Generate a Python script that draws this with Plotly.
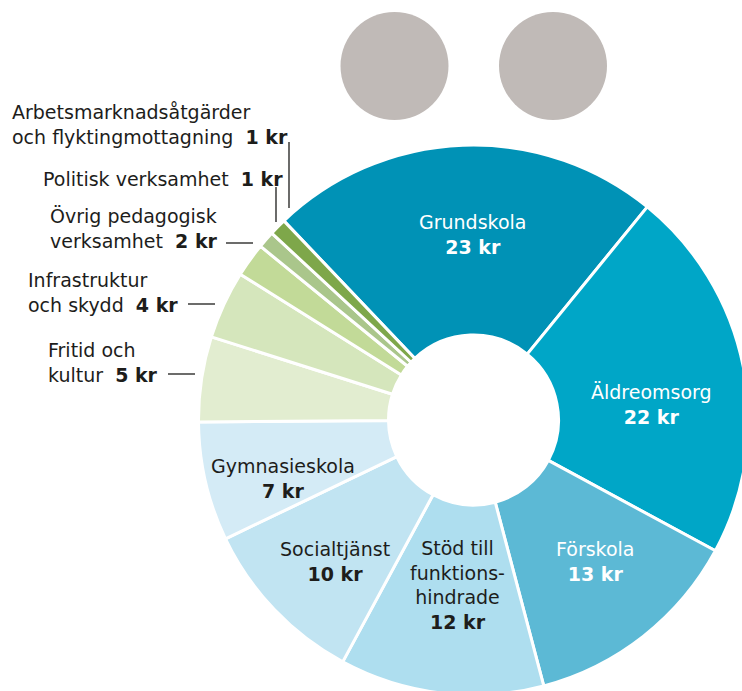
import plotly.graph_objects as go

# ---------------- data ----------------
categories = ["Grundskola", "Äldreomsorg", "Förskola", "Stöd till funktionshindrade",
              "Socialtjänst", "Gymnasieskola", "Fritid och kultur", "Infrastruktur och skydd",
              "Övrig pedagogisk verksamhet", "Politisk verksamhet",
              "Arbetsmarknadsåtgärder och flyktingmottagning"]
display_names = ["Grundskola", "Äldreomsorg", "Förskola", "Stöd till<br>funktions-<br>hindrade",
                 "Socialtjänst", "Gymnasieskola", "Fritid och<br>kultur", "Infrastruktur<br>och skydd",
                 "Övrig pedagogisk<br>verksamhet", "Politisk verksamhet",
                 "Arbetsmarknadsåtgärder<br>och flyktingmottagning"]
values_kr = [23, 22, 13, 12, 10, 7, 5, 4, 2, 1, 1]

# ---------------- style ----------------
colors = ["#0092b6", "#00a6c7", "#5cb9d5", "#aedeef", "#c1e4f2", "#d4ebf6",
          "#e2edd0", "#d5e6bc", "#c2da98", "#aac68b", "#7ea74a"]
text_colors = ["white", "white", "white", "#1d1d1b", "#1d1d1b", "#1d1d1b",
               "#1d1d1b", "#1d1d1b", "#1d1d1b", "#1d1d1b", "#1d1d1b"]
FONT = "DejaVu Sans"
FS = 19
W, H = 760, 700          # slightly larger than the window; the window crops it
CX, CY, R = 473.5, 420, 275

fig = go.Figure()
fig.add_trace(go.Pie(
    labels=categories, values=values_kr, sort=False, direction="clockwise",
    rotation=-43.6, hole=85 / R,
    marker=dict(colors=colors, line=dict(color="white", width=3)),
    textinfo="none", hoverinfo="label+value", showlegend=False,
    domain=dict(x=[(CX - R) / W, (CX + R) / W], y=[(H - CY - R) / H, (H - CY + R) / H]),
))

# pixel-space helper axis (invisible)
fig.update_xaxes(range=[0, W], visible=False, fixedrange=True)
fig.update_yaxes(range=[H, 0], visible=False, fixedrange=True)

# inside labels: (index, x, y)
inside = [(0, 472, 234), (1, 651, 404), (2, 595, 561), (3, 457, 585),
          (4, 335, 561), (5, 283, 478)]
for i, x, y in inside:
    fig.add_annotation(x=x, y=y, xref="x", yref="y", showarrow=False,
                       text=f"{display_names[i]}<br><b>{values_kr[i]} kr</b>",
                       font=dict(family=FONT, size=FS, color=text_colors[i]),
                       align="center", xanchor="center", yanchor="middle")

# outside labels: (index, left x, center y)
outside = [(10, 10, 124), (9, 41, 179), (8, 48, 228), (7, 26, 292), (6, 46, 362)]
for i, x, y in outside:
    fig.add_annotation(x=x, y=y, xref="x", yref="y", showarrow=False,
                       text=f"{display_names[i]}\u00a0 <b>{values_kr[i]} kr</b>",
                       font=dict(family=FONT, size=FS, color="#1d1d1b"),
                       align="left", xanchor="left", yanchor="middle")

# leader lines
leaders = [(289, 142, 289, 208), (276, 187, 276, 222), (226, 243, 253, 243),
           (188, 304, 215, 304), (168, 374, 195, 374)]
for x0, y0, x1, y1 in leaders:
    fig.add_shape(type="line", x0=x0, y0=y0, x1=x1, y1=y1, xref="x", yref="y",
                  line=dict(color="#1d1d1b", width=1.3))

# grey circles at top
for cx in (394.5, 553):
    fig.add_shape(type="circle", x0=cx - 54, x1=cx + 54, y0=12, y1=120,
                  xref="x", yref="y", fillcolor="#c0bab7", line=dict(width=0))

fig.update_layout(width=W, height=H, margin=dict(l=0, r=0, t=0, b=0),
                  paper_bgcolor="white", plot_bgcolor="rgba(0,0,0,0)")

fig.write_html("out.html", config={"displayModeBar": False},
               post_script="document.body.style.margin='0';document.body.style.overflow='hidden';")
